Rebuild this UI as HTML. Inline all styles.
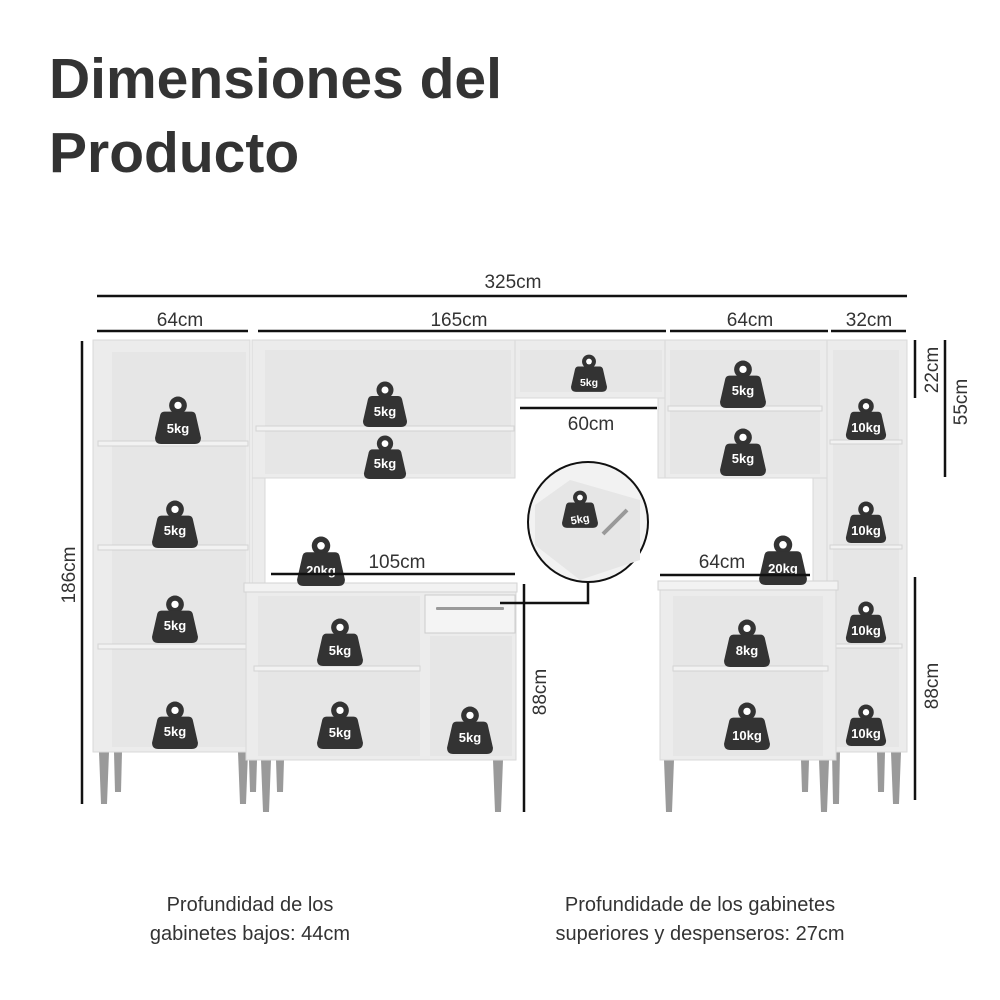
<!DOCTYPE html>
<html><head><meta charset="utf-8"><style>
html,body{margin:0;padding:0;background:#fff;width:1000px;height:1000px;overflow:hidden}
svg{display:block}
text{font-family:"Liberation Sans",sans-serif}
.d{fill:#333;font-size:19px}
.w{fill:#fff;font-size:13px;font-weight:bold;text-anchor:middle}
.f{fill:#ececec;stroke:#d9d9d9;stroke-width:1}
.i{fill:#e6e6e6}
.s{fill:#f2f2f2;stroke:#d3d3d3;stroke-width:1}
.l{fill:#9a9a9a}
.k{stroke:#111;stroke-width:2.5}
</style></head><body>
<svg width="1000" height="1000" viewBox="0 0 1000 1000">
<defs>
<symbol id="wt" viewBox="0 0 44 46">
<circle cx="22" cy="9" r="8.5" fill="#333"/><circle cx="22" cy="9" r="3.5" fill="#fff"/>
<path d="M9 15 H35 Q38 15 39 18 L44 40 Q44 46 38 46 H6 Q0 46 0 40 L5 18 Q6 15 9 15Z" fill="#333"/>
</symbol>
</defs>
<text x="49" y="98" style="font-size:57px;font-weight:bold;fill:#333">Dimensiones del</text>
<text x="49" y="172" style="font-size:57px;font-weight:bold;fill:#333">Producto</text>

<line class="k" x1="97" y1="296" x2="907" y2="296"/>
<text class="d" x="513" y="288" text-anchor="middle">325cm</text>
<line class="k" x1="97" y1="331" x2="248" y2="331"/><text class="d" x="180" y="326" text-anchor="middle">64cm</text>
<line class="k" x1="258" y1="331" x2="666" y2="331"/><text class="d" x="459" y="326" text-anchor="middle">165cm</text>
<line class="k" x1="670" y1="331" x2="828" y2="331"/><text class="d" x="750" y="326" text-anchor="middle">64cm</text>
<line class="k" x1="831" y1="331" x2="906" y2="331"/><text class="d" x="869" y="326" text-anchor="middle">32cm</text>

<g class="l">
<path d="M99 752h10l-2 52h-6z"/><path d="M114 752h8l-1 40h-6z"/>
<path d="M238 752h10l-2 52h-6z"/><path d="M249 760h8l-1 32h-6z"/>
<path d="M261 760h10l-2 52h-6z"/><path d="M276 760h8l-1 32h-6z"/>
<path d="M493 760h10l-2 52h-6z"/>
<path d="M664 760h10l-2 52h-6z"/><path d="M801 760h8l-1 32h-6z"/>
<path d="M819 760h10l-2 52h-6z"/><path d="M832 752h8l-1 52h-6z"/>
<path d="M877 752h8l-1 40h-6z"/><path d="M891 752h10l-2 52h-6z"/>
</g>

<rect class="f" x="93" y="340" width="157" height="412"/>
<rect class="i" x="112" y="352" width="134" height="395"/>
<rect class="s" x="98" y="441" width="150" height="5"/>
<rect class="s" x="98" y="545" width="150" height="5"/>
<rect class="s" x="98" y="644" width="150" height="5"/>
<rect class="f" x="252" y="340" width="263" height="138"/>
<rect class="i" x="265" y="350" width="246" height="124"/>
<rect class="s" x="256" y="426" width="258" height="5"/>
<rect class="f" x="252" y="478" width="13" height="110"/>
<rect class="f" x="515" y="340" width="150" height="58"/>
<rect class="i" x="520" y="350" width="142" height="42"/>
<rect class="f" x="658" y="398" width="10" height="80"/>
<rect class="f" x="665" y="340" width="162" height="138"/>
<rect class="i" x="670" y="350" width="150" height="124"/>
<rect class="s" x="668" y="406" width="154" height="5"/>
<rect class="f" x="813" y="478" width="14" height="108"/>
<rect class="f" x="827" y="340" width="80" height="412"/>
<rect class="i" x="833" y="350" width="66" height="397"/>
<rect class="s" x="830" y="440" width="72" height="4"/>
<rect class="s" x="830" y="545" width="72" height="4"/>
<rect class="s" x="836" y="644" width="66" height="4"/>
<rect class="f" x="246" y="590" width="270" height="170"/>
<rect class="i" x="258" y="596" width="162" height="160"/>
<rect class="i" x="430" y="636" width="82" height="120"/>
<rect class="s" x="244" y="583" width="273" height="9"/>
<rect class="s" x="254" y="666" width="166" height="5"/>
<rect fill="#f4f4f4" stroke="#ccc" x="425" y="595" width="90" height="38"/>
<rect fill="#9a9a9a" x="436" y="607" width="68" height="3" rx="1"/>
<rect class="f" x="660" y="588" width="176" height="172"/>
<rect class="i" x="673" y="596" width="150" height="160"/>
<rect class="s" x="658" y="581" width="180" height="9"/>
<rect class="s" x="673" y="666" width="155" height="5"/>

<g>
<use href="#wt" x="155" y="396" width="46" height="48"/><text class="w" x="178" y="433">5kg</text>
<use href="#wt" x="152" y="500" width="46" height="48"/><text class="w" x="175" y="535">5kg</text>
<use href="#wt" x="152" y="595" width="46" height="48"/><text class="w" x="175" y="630">5kg</text>
<use href="#wt" x="152" y="701" width="46" height="48"/><text class="w" x="175" y="736">5kg</text>
<use href="#wt" x="362" y="381" width="46" height="46"/><text class="w" x="385" y="416">5kg</text>
<use href="#wt" x="362" y="435" width="46" height="44"/><text class="w" x="385" y="468">5kg</text>
<use href="#wt" x="571" y="354" width="36" height="38"/><text class="w" x="589" y="386" style="font-size:10.5px">5kg</text>
<use href="#wt" x="720" y="360" width="46" height="48"/><text class="w" x="743" y="395">5kg</text>
<use href="#wt" x="720" y="428" width="46" height="48"/><text class="w" x="743" y="463">5kg</text>
<use href="#wt" x="844" y="398" width="44" height="42"/><text class="w" x="866" y="432">10kg</text>
<use href="#wt" x="844" y="501" width="44" height="42"/><text class="w" x="866" y="535">10kg</text>
<use href="#wt" x="844" y="601" width="44" height="42"/><text class="w" x="866" y="635">10kg</text>
<use href="#wt" x="844" y="704" width="44" height="42"/><text class="w" x="866" y="738">10kg</text>
<use href="#wt" x="297" y="536" width="48" height="50"/><text class="w" x="321" y="575">20kg</text>
<use href="#wt" x="759" y="535" width="48" height="50"/><text class="w" x="783" y="573">20kg</text>
<use href="#wt" x="317" y="618" width="46" height="48"/><text class="w" x="340" y="655">5kg</text>
<use href="#wt" x="317" y="701" width="46" height="48"/><text class="w" x="340" y="737">5kg</text>
<use href="#wt" x="447" y="706" width="46" height="48"/><text class="w" x="470" y="742">5kg</text>
<use href="#wt" x="724" y="619" width="46" height="48"/><text class="w" x="747" y="655">8kg</text>
<use href="#wt" x="723" y="702" width="48" height="48"/><text class="w" x="747" y="740">10kg</text>
</g>

<circle cx="588" cy="522" r="60" fill="#f2f2f2" stroke="#111" stroke-width="2"/>
<path d="M535 505 L570 480 L640 500 L640 560 L580 580 L535 545Z" fill="#e6e6e6"/>
<rect x="598" y="520" width="34" height="4" fill="#999" transform="rotate(-45 615 522)"/>
<use href="#wt" x="562" y="489" width="36" height="40"/><text class="w" x="580" y="523" style="font-size:11px" transform="rotate(-10 580 519)">5kg</text>
<path d="M500 603 H588 V582" fill="none" stroke="#111" stroke-width="2.5"/>

<line class="k" x1="82" y1="341" x2="82" y2="804"/>
<text class="d" transform="translate(75 575) rotate(-90)" text-anchor="middle">186cm</text>
<line class="k" x1="915" y1="340" x2="915" y2="398"/>
<text class="d" transform="translate(938 370) rotate(-90)" text-anchor="middle">22cm</text>
<line class="k" x1="945" y1="340" x2="945" y2="477"/>
<text class="d" transform="translate(967 402) rotate(-90)" text-anchor="middle">55cm</text>
<line class="k" x1="915" y1="577" x2="915" y2="800"/>
<text class="d" transform="translate(938 686) rotate(-90)" text-anchor="middle">88cm</text>
<line class="k" x1="524" y1="584" x2="524" y2="812"/>
<text class="d" transform="translate(546 692) rotate(-90)" text-anchor="middle">88cm</text>
<line class="k" x1="520" y1="408" x2="657" y2="408"/><text class="d" x="591" y="430" text-anchor="middle">60cm</text>
<line class="k" x1="271" y1="574" x2="515" y2="574"/><text class="d" x="397" y="568" text-anchor="middle">105cm</text>
<line class="k" x1="660" y1="575" x2="810" y2="575"/><text class="d" x="722" y="568" text-anchor="middle">64cm</text>

<text class="d" x="250" y="911" text-anchor="middle" style="font-size:20px">Profundidad de los</text>
<text class="d" x="250" y="940" text-anchor="middle" style="font-size:20px">gabinetes bajos: 44cm</text>
<text class="d" x="700" y="911" text-anchor="middle" style="font-size:20px">Profundidade de los gabinetes</text>
<text class="d" x="700" y="940" text-anchor="middle" style="font-size:20px">superiores y despenseros: 27cm</text>
</svg>
</body></html>
